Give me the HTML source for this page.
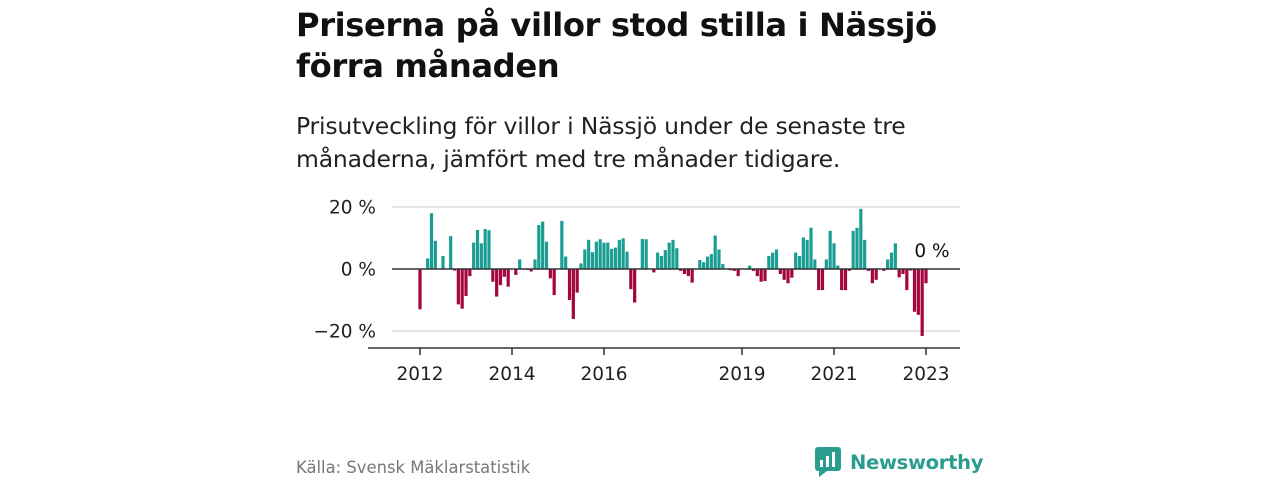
<!DOCTYPE html>
<html><head><meta charset="utf-8">
<style>
body{margin:0;width:1280px;height:480px;background:#fff;font-family:"Liberation Sans","DejaVu Sans",sans-serif;overflow:hidden;position:relative}
.t{position:absolute;left:296px;top:5px;font-size:32.2px;font-weight:bold;color:#111;line-height:41px;margin:0;font-family:"DejaVu Sans","Liberation Sans",sans-serif;letter-spacing:-0.4px}
.s{position:absolute;left:296px;top:110px;font-size:23.5px;color:#222;line-height:33px;margin:0;font-family:"DejaVu Sans","Liberation Sans",sans-serif;letter-spacing:-0.2px}
.src{position:absolute;left:296px;top:458px;font-size:16.4px;color:#777;font-family:"DejaVu Sans",sans-serif}
svg{position:absolute;left:0;top:0}
</style></head><body>
<h1 class="t">Priserna på villor stod stilla i Nässjö<br>förra månaden</h1>
<p class="s">Prisutveckling för villor i Nässjö under de senaste tre<br>månaderna, jämfört med tre månader tidigare.</p>
<svg id="chart" width="1280" height="480"></svg>
<div class="src">Källa: Svensk Mäklarstatistik</div>
<div style="position:absolute;left:815px;top:446px;height:32px;display:flex;align-items:center">
<svg width="26" height="30" style="position:static"><rect x="0" y="0" width="26" height="24" rx="3" fill="#2a9d8f"/><polygon points="4,24 12,24 4,30" fill="#2a9d8f"/><rect x="5" y="13" width="3" height="7" fill="#fff"/><rect x="11" y="9" width="3" height="11" fill="#fff"/><rect x="17" y="5" width="3" height="15" fill="#fff"/></svg>
<span style="font-family:'DejaVu Sans',sans-serif;font-weight:bold;font-size:19.5px;color:#2a9d8f;margin-left:9px;letter-spacing:-0.3px">Newsworthy</span></div>
<script>
const startYear = 2012;
const values = [-13,0,3.4,18,9.1,0,4.2,0,10.6,-0.5,-11.4,-12.8,-8.7,-2.3,8.5,12.6,8.3,12.9,12.5,-4.1,-8.9,-5.2,-2.5,-5.7,
0,-1.9,3.1,0,-0.3,-0.8,3.1,14.2,15.3,8.8,-3,-8.4,0,15.5,4,-10,-16.1,-7.6,1.8,6.3,9.4,5.4,8.8,9.6,
8.5,8.5,6.5,6.9,9.4,9.9,5.6,-6.5,-10.8,0,9.7,9.6,0,-1.1,5.3,4.2,6.1,8.5,9.4,6.7,-0.6,-1.6,-2.3,-4.4,
0,2.9,2.2,4,4.8,10.8,6.3,1.6,0,-0.4,-0.6,-2.3,0,0,1.1,-0.6,-2.3,-4.1,-3.9,4.2,5.3,6.3,-1.6,-3.5,
-4.6,-2.8,5.3,4.2,10.2,9.4,13.3,3.1,-6.8,-6.8,3.1,12.3,8.3,1.1,-6.8,-6.8,-0.6,12.3,13.3,19.4,9.4,-0.6,-4.6,-3.5,
0,-0.6,3.1,5.3,8.3,-2.7,-1.6,-6.8,-0.5,-13.8,-14.8,-21.6,-4.6];
const yTicks = [20,0,-20];
const yTickLabels = ["20 %","0 %","\u221220 %"];
const xTickYears = [2012,2014,2016,2019,2021,2023];
const lastLabel = "0 %";
const NS="http://www.w3.org/2000/svg";
const svg=document.getElementById('chart');
const x0=420, pxPerMonth=506/132, y0=269, pxPerPct=3.1;
const xs=i=>x0+i*pxPerMonth;
const ys=v=>y0-v*pxPerPct;
function mk(tag,attrs){const e=document.createElementNS(NS,tag);for(const k in attrs)e.setAttribute(k,attrs[k]);svg.appendChild(e);return e;}
yTicks.forEach((t,k)=>{
  if(t!==0){const g=mk('line',{x1:392,x2:960,y1:ys(t),y2:ys(t),stroke:'#ddd','stroke-width':1.5});
  
  }
  const tx=mk('text',{x:376,y:ys(t)+6.5,'text-anchor':'end','font-size':18.5,fill:'#222','font-family':'DejaVu Sans, sans-serif'});
  tx.textContent=yTickLabels[k];
  
  
});
values.forEach((v,i)=>{
  if(v===0)return;
  const r=mk('rect',{x:xs(i)-1.6,width:3.2,y:Math.min(ys(v),y0),height:Math.abs(v)*pxPerPct,fill:v>0?'#1a9e94':'#a3053f'});
  
  
});
const z=mk('line',{x1:392,x2:960,y1:y0,y2:y0,stroke:'#333','stroke-width':1.5});


const ax=mk('line',{x1:368,x2:960,y1:348,y2:348,stroke:'#333','stroke-width':1.5});


xTickYears.forEach(yr=>{
  const x=xs((yr-startYear)*12);
  const tk=mk('line',{x1:x,x2:x,y1:348,y2:355,stroke:'#333','stroke-width':1.5});
  
  
  const tx=mk('text',{x:x,y:380,'text-anchor':'middle','font-size':18.5,fill:'#222','font-family':'DejaVu Sans, sans-serif'});
  tx.textContent=yr;
  
  
});
const ll=mk('text',{x:932,y:257,'text-anchor':'middle','font-size':18.5,fill:'#111','font-family':'DejaVu Sans, sans-serif'});
ll.textContent=lastLabel;


</script>
</body></html>
